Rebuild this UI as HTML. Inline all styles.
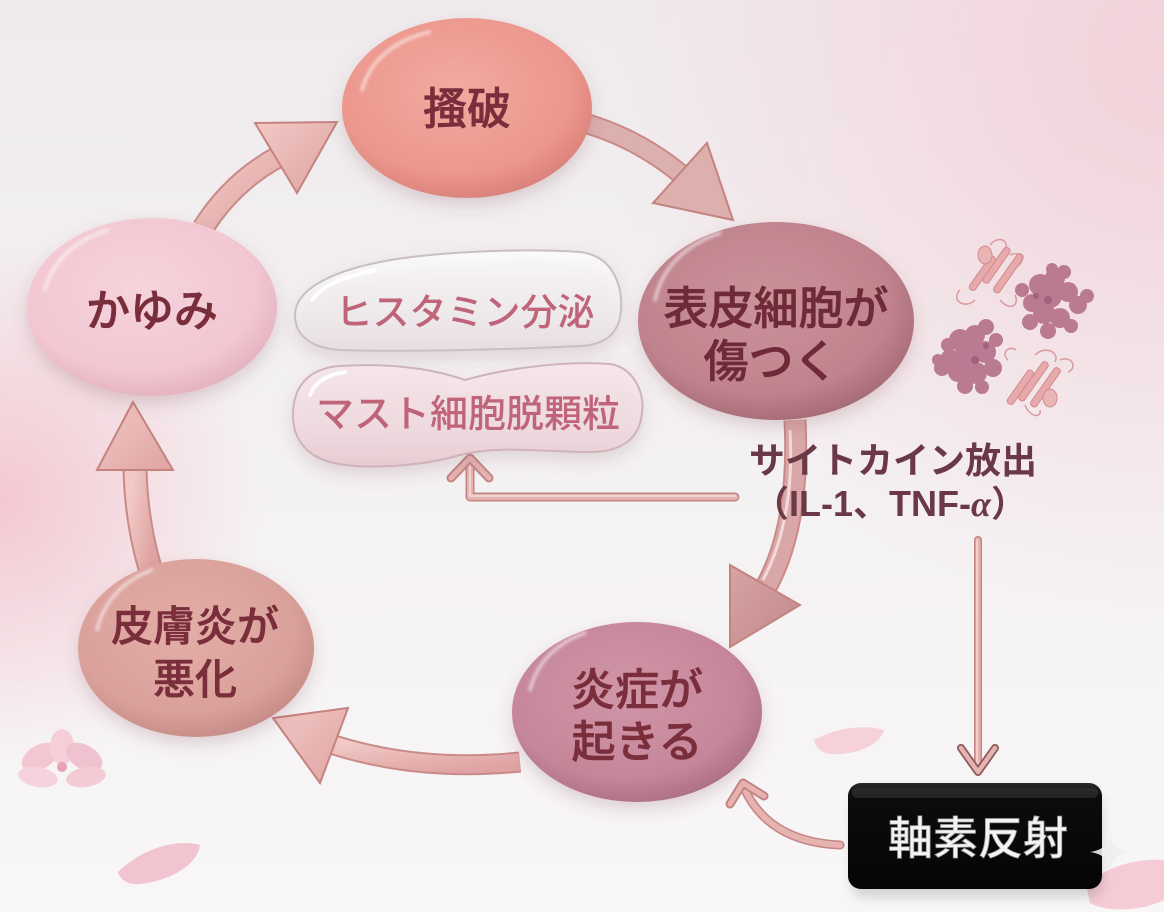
<!DOCTYPE html>
<html><head><meta charset="utf-8">
<style>
html,body{margin:0;padding:0;width:1164px;height:912px;overflow:hidden;background:#f4f1f2;}
svg{display:block;}
text{font-family:"Liberation Sans","Noto Sans CJK JP",sans-serif;}
</style></head>
<body>
<svg width="1164" height="912" viewBox="0 0 1164 912" xmlns="http://www.w3.org/2000/svg">
<defs>
  <linearGradient id="bg" x1="0" y1="0" x2="0" y2="1">
    <stop offset="0" stop-color="#efebed"/>
    <stop offset="0.6" stop-color="#f5f2f3"/>
    <stop offset="1" stop-color="#f8f6f7"/>
  </linearGradient>
  <radialGradient id="bgTR" cx="1164" cy="60" r="560" gradientUnits="userSpaceOnUse">
    <stop offset="0" stop-color="#f3d2da" stop-opacity="1"/>
    <stop offset="1" stop-color="#f3d2da" stop-opacity="0"/>
  </radialGradient>
  <radialGradient id="bgL" cx="0" cy="500" r="260" gradientUnits="userSpaceOnUse">
    <stop offset="0" stop-color="#f4c8d2" stop-opacity="1"/>
    <stop offset="1" stop-color="#f4c8d2" stop-opacity="0"/>
  </radialGradient>
  <radialGradient id="gS" cx="0.45" cy="0.4" r="0.62">
    <stop offset="0" stop-color="#f3aaa0"/><stop offset="0.75" stop-color="#ec978d"/><stop offset="1" stop-color="#d9817a"/>
  </radialGradient>
  <radialGradient id="gH" cx="0.45" cy="0.4" r="0.62">
    <stop offset="0" stop-color="#cb929a"/><stop offset="0.75" stop-color="#c0838d"/><stop offset="1" stop-color="#a66a76"/>
  </radialGradient>
  <radialGradient id="gE" cx="0.45" cy="0.4" r="0.62">
    <stop offset="0" stop-color="#d096a8"/><stop offset="0.75" stop-color="#c6869a"/><stop offset="1" stop-color="#ad6f86"/>
  </radialGradient>
  <radialGradient id="gD" cx="0.45" cy="0.4" r="0.62">
    <stop offset="0" stop-color="#e3aea7"/><stop offset="0.75" stop-color="#daa19b"/><stop offset="1" stop-color="#c68b86"/>
  </radialGradient>
  <radialGradient id="gK" cx="0.45" cy="0.4" r="0.62">
    <stop offset="0" stop-color="#f6d3dc"/><stop offset="0.75" stop-color="#f2c7d2"/><stop offset="1" stop-color="#e4b1bf"/>
  </radialGradient>
  <linearGradient id="glass1" x1="0" y1="0" x2="0" y2="1">
    <stop offset="0" stop-color="#ffffff" stop-opacity="0.75"/>
    <stop offset="0.6" stop-color="#f3eef0" stop-opacity="0.6"/>
    <stop offset="1" stop-color="#e6dde0" stop-opacity="0.8"/>
  </linearGradient>
  <linearGradient id="glass2" x1="0" y1="0" x2="0" y2="1">
    <stop offset="0" stop-color="#f7e6ea" stop-opacity="0.85"/>
    <stop offset="0.6" stop-color="#f1d9df" stop-opacity="0.75"/>
    <stop offset="1" stop-color="#e7c9d0" stop-opacity="0.85"/>
  </linearGradient>
  <linearGradient id="arr" x1="0" y1="0" x2="1" y2="1">
    <stop offset="0" stop-color="#f2c9c5"/><stop offset="1" stop-color="#dea3a2"/>
  </linearGradient>
  <linearGradient id="arrD" x1="0" y1="0" x2="1" y2="1">
    <stop offset="0" stop-color="#d7a3a3"/><stop offset="1" stop-color="#c28a8e"/>
  </linearGradient>
  <linearGradient id="box" x1="0" y1="0" x2="0" y2="1">
    <stop offset="0" stop-color="#2a2a2a"/><stop offset="0.12" stop-color="#0c0c0c"/><stop offset="1" stop-color="#050505"/>
  </linearGradient>
  <filter id="sh" x="-20%" y="-20%" width="140%" height="150%">
    <feDropShadow dx="0" dy="8" stdDeviation="8" flood-color="#7a4050" flood-opacity="0.2"/>
  </filter>
  <filter id="blur2"><feGaussianBlur stdDeviation="1.5"/></filter>
  <filter id="blur6"><feGaussianBlur stdDeviation="6"/></filter>
</defs>

<!-- background -->
<rect width="1164" height="912" fill="url(#bg)"/>
<rect width="1164" height="912" fill="url(#bgTR)"/>
<rect width="1164" height="912" fill="url(#bgL)"/>

<!-- petals -->
<g opacity="0.9">
  <g transform="translate(62,765)">
    <ellipse cx="-22" cy="-8" rx="20" ry="12" fill="#f3c3cf" transform="rotate(-30 -22 -8)"/>
    <ellipse cx="0" cy="-18" rx="12" ry="18" fill="#f5cbd6"/>
    <ellipse cx="22" cy="-8" rx="20" ry="12" fill="#f0bccb" transform="rotate(30 22 -8)"/>
    <ellipse cx="24" cy="12" rx="20" ry="10" fill="#f4c7d2" transform="rotate(-10 24 12)"/>
    <ellipse cx="-24" cy="12" rx="20" ry="10" fill="#f6d0da" transform="rotate(10 -24 12)"/>
    <circle cx="0" cy="2" r="5" fill="#e79aae"/>
  </g>
  <path d="M118,872 C140,850 175,838 200,845 C198,862 175,880 140,884 C128,885 120,880 118,872 Z" fill="#f1bfcc"/>
  <path d="M814,740 C835,728 865,724 884,730 C880,745 855,756 830,754 C820,752 815,746 814,740 Z" fill="#f5cdd7"/>
  <path d="M1086,885 C1105,866 1140,858 1164,860 L1164,900 C1140,912 1105,912 1090,903 Z" fill="#f4c6d2"/>
</g>

<!-- cytokine connectors (thin tubes) -->
<g fill="none" stroke-linecap="round" stroke-linejoin="round">
  <path d="M735,497 L470,497 L470,462" stroke="#c48585" stroke-width="9"/>
  <path d="M735,497 L470,497 L470,462" stroke="#e6b3b0" stroke-width="6"/>
  <path d="M735,496 L470,496 L470,462" stroke="#f8e0dd" stroke-width="1.5"/>
  <path d="M451,478 L470,458 L489,478" stroke="#c48585" stroke-width="9"/>
  <path d="M451,478 L470,458 L489,478" stroke="#e6b3b0" stroke-width="5"/>

  <path d="M978,540 L978,770" stroke="#c48585" stroke-width="8"/>
  <path d="M978,540 L978,770" stroke="#e6b3b0" stroke-width="5"/>
  <path d="M977,540 L977,770" stroke="#f8e0dd" stroke-width="1.3"/>
  <path d="M961,748 L978,772 L995,748" stroke="#8a5a5c" stroke-width="8"/>
  <path d="M961,748 L978,772 L995,748" stroke="#e6b3b0" stroke-width="4.5"/>

  <path d="M840,845 Q770,842 745,790" stroke="#c48585" stroke-width="9"/>
  <path d="M840,845 Q770,842 745,790" stroke="#e6b3b0" stroke-width="6"/>
  <path d="M730,804 L743,783 L764,796" stroke="#c48585" stroke-width="9"/>
  <path d="M730,804 L743,783 L764,796" stroke="#e6b3b0" stroke-width="5"/>
</g>

<!-- cycle arrows bodies -->
<g fill="none" stroke-linecap="butt">
  <path d="M203,228 Q232,182 278,157" stroke="#c98a88" stroke-width="23"/>
  <path d="M203,228 Q232,182 278,157" stroke="url(#arr)" stroke-width="19"/>
  <path d="M588,124 Q640,140 682,175" stroke="#c98a88" stroke-width="21"/>
  <path d="M588,124 Q640,140 682,175" stroke="#dcb0ae" stroke-width="17"/>
  <path d="M795,420 C798,480 792,540 766,587" stroke="#c98a88" stroke-width="23"/>
  <path d="M795,420 C798,480 792,540 766,587" stroke="#d9a7a7" stroke-width="19"/>
  <path d="M790,430 C793,480 787,535 763,580" stroke="#f3dad8" stroke-width="3"/>
  <path d="M520,762 Q420,772 334,745" stroke="#c98a88" stroke-width="21"/>
  <path d="M520,762 Q420,772 334,745" stroke="url(#arr)" stroke-width="17"/>
  <path d="M150,568 Q136,520 135,468" stroke="#c98a88" stroke-width="25"/>
  <path d="M150,568 Q136,520 135,468" stroke="url(#arr)" stroke-width="21"/>
</g>
<g stroke="#c5837f" stroke-width="2" stroke-linejoin="miter">
  <polygon points="255,123 337,122 297,193" fill="url(#arr)"/>
  <polygon points="653,203 707,143 733,220" fill="#ddb0ae"/>
  <polygon points="730,565 800,605 730,647" fill="url(#arrD)"/>
  <polygon points="273,718 348,708 320,783" fill="url(#arr)"/>
  <polygon points="97,470 133,402 173,470" fill="url(#arr)"/>
</g>

<!-- glass pills -->
<g filter="url(#sh)">
  <path d="M295,315 C295,290 330,272 380,262 C430,252 520,248 580,252 C615,256 625,290 620,318 C615,338 600,345 580,346 C500,350 400,352 340,350 C310,348 295,335 295,315 Z" fill="url(#glass1)" stroke="#c9bfc2" stroke-width="2"/>
  <path d="M293,415 C293,385 310,368 340,366 C390,363 430,368 465,380 C500,370 560,360 610,364 C635,368 645,395 642,412 C640,440 620,452 590,452 C540,452 500,445 460,455 C420,467 360,470 330,462 C305,455 293,438 293,415 Z" fill="url(#glass2)" stroke="#cfb3ba" stroke-width="2"/>
</g>
<path d="M312,300 C325,282 350,276 375,270" fill="none" stroke="#fff" stroke-width="4" stroke-linecap="round" opacity="0.9"/>
<path d="M310,395 C316,380 330,374 345,372" fill="none" stroke="#fff" stroke-width="4" stroke-linecap="round" opacity="0.9"/>
<text x="465" y="325" font-size="37" fill="#c0647a" text-anchor="middle" font-weight="500">ヒスタミン分泌</text>
<text x="468" y="427" font-size="38" fill="#c0647a" text-anchor="middle" font-weight="500">マスト細胞脱顆粒</text>

<!-- nodes -->
<g filter="url(#sh)">
  <ellipse cx="467" cy="108" rx="125" ry="90" fill="url(#gS)"/>
  <ellipse cx="776" cy="321" rx="138" ry="99" fill="url(#gH)"/>
  <ellipse cx="637" cy="712" rx="125" ry="90" fill="url(#gE)"/>
  <ellipse cx="196" cy="648" rx="118" ry="89" fill="url(#gD)"/>
  <ellipse cx="152" cy="307" rx="125" ry="89" fill="url(#gK)"/>
</g>
<g fill="none" stroke="#ffffff" stroke-width="3" stroke-linecap="round" opacity="0.65" filter="url(#blur2)">
  <path d="M362,90 C370,60 395,40 430,32"/>
  <path d="M655,300 C662,268 685,245 720,233"/>
  <path d="M530,690 C537,662 557,643 585,633"/>
  <path d="M97,630 C104,600 125,580 152,570"/>
  <path d="M45,290 C52,262 75,240 108,230"/>
</g>

<!-- node texts -->
<g font-size="44" fill="#7a2e3c" stroke="#7a2e3c" stroke-width="0.6" text-anchor="middle" font-weight="500">
  <text x="467" y="124">搔破</text>
  <text x="152" y="326">かゆみ</text>
  <text x="776" y="324" font-size="45" fill="#6f2a38" stroke="#6f2a38">表皮細胞が</text>
  <text x="771" y="377" font-size="45" fill="#6f2a38" stroke="#6f2a38">傷つく</text>
  <text x="637" y="705">炎症が</text>
  <text x="637" y="757">起きる</text>
  <text x="195" y="641" font-size="42">皮膚炎が</text>
  <text x="195" y="694" font-size="42">悪化</text>
</g>

<!-- cytokine label -->
<g fill="#6b3848" text-anchor="middle" font-weight="700">
  <text x="893" y="473" font-size="36">サイトカイン放出</text>
  <text x="890" y="516" font-size="36">（IL-1、TNF-<tspan font-style="italic" font-family="Liberation Serif, serif">α</tspan>）</text>
</g>

<!-- molecules -->
<g>
  <g fill="#e8a9ab" stroke="#cf8c90" stroke-width="1">
    <rect x="975" y="262" width="42" height="7" rx="3" transform="rotate(-55 996 265)"/>
    <rect x="985" y="270" width="46" height="7" rx="3" transform="rotate(-55 1008 273)"/>
    <rect x="962" y="270" width="40" height="7" rx="3" transform="rotate(-55 982 273)"/>
    <ellipse cx="985" cy="255" rx="7" ry="9" fill="#eab4b5"/>
  </g>
  <path d="M960,290 C950,300 965,310 975,300 M990,245 C998,235 1010,240 1005,250 M1000,300 C1010,312 1020,305 1015,295 M1010,255 C1022,250 1026,260 1018,266" fill="none" stroke="#d99aa0" stroke-width="1.5"/>
  <g fill="#e8a9ab" stroke="#cf8c90" stroke-width="1">
    <rect x="1010" y="378" width="46" height="7" rx="3" transform="rotate(-55 1033 381)"/>
    <rect x="1022" y="384" width="46" height="7" rx="3" transform="rotate(-55 1045 387)"/>
    <rect x="1000" y="384" width="40" height="7" rx="3" transform="rotate(-55 1020 387)"/>
    <ellipse cx="1050" cy="398" rx="7" ry="9" fill="#eab4b5"/>
  </g>
  <path d="M1035,355 C1045,345 1060,352 1055,362 M1060,360 C1072,355 1078,368 1068,372 M1025,405 C1030,418 1042,418 1040,410 M1008,360 C1000,352 1010,345 1016,350" fill="none" stroke="#d99aa0" stroke-width="1.5"/>
  <g fill="#b97a92">
    <circle cx="1040" cy="285" r="11"/><circle cx="1055" cy="278" r="10"/><circle cx="1050" cy="296" r="12"/>
    <circle cx="1068" cy="292" r="10"/><circle cx="1078" cy="305" r="9"/><circle cx="1087" cy="296" r="7"/>
    <circle cx="1032" cy="303" r="9"/><circle cx="1044" cy="313" r="11"/><circle cx="1060" cy="318" r="10"/>
    <circle cx="1030" cy="322" r="8"/><circle cx="1048" cy="331" r="8"/><circle cx="1064" cy="272" r="7"/>
    <circle cx="1022" cy="290" r="7"/><circle cx="1071" cy="326" r="7"/><circle cx="1052" cy="269" r="6"/>
  </g>
  <g fill="#8a4a63" opacity="0.5"><circle cx="1048" cy="300" r="4"/><circle cx="1036" cy="296" r="3"/></g>
  <g fill="#b97a92">
    <circle cx="960" cy="340" r="11"/><circle cx="975" cy="335" r="10"/><circle cx="986" cy="327" r="8"/>
    <circle cx="968" cy="355" r="13"/><circle cx="985" cy="352" r="11"/><circle cx="950" cy="358" r="9"/>
    <circle cx="942" cy="368" r="8"/><circle cx="958" cy="372" r="10"/><circle cx="976" cy="373" r="11"/>
    <circle cx="993" cy="368" r="9"/><circle cx="965" cy="386" r="8"/><circle cx="982" cy="387" r="7"/>
    <circle cx="996" cy="340" r="7"/><circle cx="948" cy="345" r="7"/><circle cx="938" cy="360" r="6"/>
  </g>
  <g fill="#8a4a63" opacity="0.5"><circle cx="975" cy="360" r="4"/><circle cx="986" cy="346" r="3"/></g>
</g>

<!-- black box -->
<g>
  <rect x="852" y="795" width="250" height="102" rx="12" fill="#000" opacity="0.15" filter="url(#blur6)"/>
  <rect x="848" y="783" width="254" height="106" rx="13" fill="url(#box)"/>
  <rect x="852" y="788" width="246" height="10" rx="5" fill="#3a3a3a" opacity="0.5"/>
  <text x="978" y="854" font-size="45" fill="#f4f2f2" text-anchor="middle" font-weight="500" stroke="#9a9a9a" stroke-width="0.8">軸素反射</text>
</g>
<path d="M1110,832 C1112,845 1117,850 1130,852 C1117,854 1112,859 1110,872 C1108,859 1103,854 1090,852 C1103,850 1108,845 1110,832 Z" fill="#eeeeef" opacity="0.9"/>
</svg>
</body></html>
